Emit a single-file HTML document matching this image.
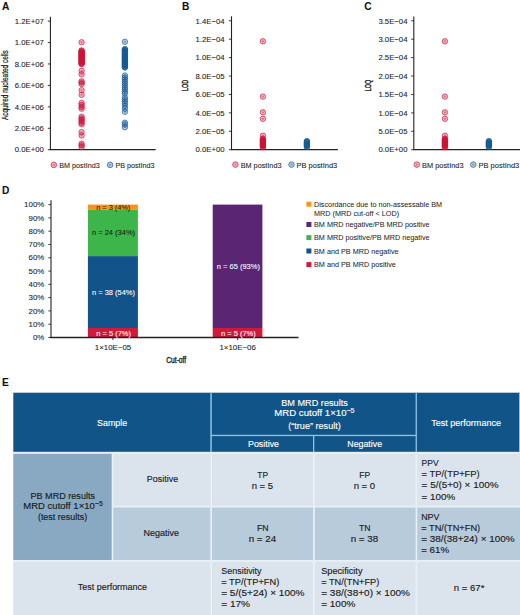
<!DOCTYPE html>
<html><head><meta charset="utf-8"><style>
html,body{margin:0;padding:0;background:#fff;width:520px;height:615px;overflow:hidden;}
svg{display:block;font-family:"Liberation Sans",sans-serif;}
</style></head><body>
<svg width="520" height="615" viewBox="0 0 520 615" font-family="Liberation Sans, sans-serif">
<rect width="520" height="615" fill="#fff"/>
<text x="2" y="10" font-size="10.2" text-anchor="start" fill="#111" font-weight="bold" stroke="#111" stroke-width="0.08" >A</text>
<line x1="50.4" y1="16.7" x2="50.4" y2="149.7" stroke="#222" stroke-width="1.1"/>
<line x1="49.85" y1="149.7" x2="155.7" y2="149.7" stroke="#222" stroke-width="1.3"/>
<line x1="47.8" y1="149.7" x2="50.4" y2="149.7" stroke="#222" stroke-width="0.9"/>
<text x="43.8" y="152.39999999999998" font-size="7.75" text-anchor="end" fill="#222" font-weight="normal" stroke="#222" stroke-width="0.08" >0.0E+00</text>
<line x1="47.8" y1="128.27" x2="50.4" y2="128.27" stroke="#222" stroke-width="0.9"/>
<text x="43.8" y="130.97" font-size="7.75" text-anchor="end" fill="#222" font-weight="normal" stroke="#222" stroke-width="0.08" >2.0E+06</text>
<line x1="47.8" y1="106.84" x2="50.4" y2="106.84" stroke="#222" stroke-width="0.9"/>
<text x="43.8" y="109.54" font-size="7.75" text-anchor="end" fill="#222" font-weight="normal" stroke="#222" stroke-width="0.08" >4.0E+06</text>
<line x1="47.8" y1="85.41" x2="50.4" y2="85.41" stroke="#222" stroke-width="0.9"/>
<text x="43.8" y="88.11" font-size="7.75" text-anchor="end" fill="#222" font-weight="normal" stroke="#222" stroke-width="0.08" >6.0E+06</text>
<line x1="47.8" y1="63.98" x2="50.4" y2="63.98" stroke="#222" stroke-width="0.9"/>
<text x="43.8" y="66.67999999999999" font-size="7.75" text-anchor="end" fill="#222" font-weight="normal" stroke="#222" stroke-width="0.08" >8.0E+06</text>
<line x1="47.8" y1="42.55" x2="50.4" y2="42.55" stroke="#222" stroke-width="0.9"/>
<text x="43.8" y="45.25" font-size="7.75" text-anchor="end" fill="#222" font-weight="normal" stroke="#222" stroke-width="0.08" >1.0E+07</text>
<line x1="47.8" y1="21.12" x2="50.4" y2="21.12" stroke="#222" stroke-width="0.9"/>
<text x="43.8" y="23.82" font-size="7.75" text-anchor="end" fill="#222" font-weight="normal" stroke="#222" stroke-width="0.08" >1.2E+07</text>
<text transform="translate(8.0,85.1) rotate(-90)" font-size="8.4" text-anchor="middle" fill="#1a1a1a" stroke="#1a1a1a" stroke-width="0.22" textLength="69.8" lengthAdjust="spacingAndGlyphs">Acquired nucleated cells</text>
<g><circle cx="81.6" cy="42.3" r="2.7" fill="#cc1338" fill-opacity="0.3" stroke="#cc1338" stroke-width="0.8" stroke-opacity="0.85"/><circle cx="81.6" cy="42.3" r="1.1" fill="#cc1338" fill-opacity="0.45"/></g>
<g><circle cx="81.6" cy="50.4" r="2.7" fill="#cc1338" fill-opacity="0.3" stroke="#cc1338" stroke-width="0.8" stroke-opacity="0.85"/><circle cx="81.6" cy="50.4" r="1.1" fill="#cc1338" fill-opacity="0.45"/></g>
<g><circle cx="81.6" cy="51.0" r="2.7" fill="#cc1338" fill-opacity="0.3" stroke="#cc1338" stroke-width="0.8" stroke-opacity="0.85"/><circle cx="81.6" cy="51.0" r="1.1" fill="#cc1338" fill-opacity="0.45"/></g>
<g><circle cx="81.6" cy="51.6" r="2.7" fill="#cc1338" fill-opacity="0.3" stroke="#cc1338" stroke-width="0.8" stroke-opacity="0.85"/><circle cx="81.6" cy="51.6" r="1.1" fill="#cc1338" fill-opacity="0.45"/></g>
<g><circle cx="81.6" cy="52.2" r="2.7" fill="#cc1338" fill-opacity="0.3" stroke="#cc1338" stroke-width="0.8" stroke-opacity="0.85"/><circle cx="81.6" cy="52.2" r="1.1" fill="#cc1338" fill-opacity="0.45"/></g>
<g><circle cx="81.6" cy="52.8" r="2.7" fill="#cc1338" fill-opacity="0.3" stroke="#cc1338" stroke-width="0.8" stroke-opacity="0.85"/><circle cx="81.6" cy="52.8" r="1.1" fill="#cc1338" fill-opacity="0.45"/></g>
<g><circle cx="81.6" cy="53.4" r="2.7" fill="#cc1338" fill-opacity="0.3" stroke="#cc1338" stroke-width="0.8" stroke-opacity="0.85"/><circle cx="81.6" cy="53.4" r="1.1" fill="#cc1338" fill-opacity="0.45"/></g>
<g><circle cx="81.6" cy="54.0" r="2.7" fill="#cc1338" fill-opacity="0.3" stroke="#cc1338" stroke-width="0.8" stroke-opacity="0.85"/><circle cx="81.6" cy="54.0" r="1.1" fill="#cc1338" fill-opacity="0.45"/></g>
<g><circle cx="81.6" cy="54.6" r="2.7" fill="#cc1338" fill-opacity="0.3" stroke="#cc1338" stroke-width="0.8" stroke-opacity="0.85"/><circle cx="81.6" cy="54.6" r="1.1" fill="#cc1338" fill-opacity="0.45"/></g>
<g><circle cx="81.6" cy="55.2" r="2.7" fill="#cc1338" fill-opacity="0.3" stroke="#cc1338" stroke-width="0.8" stroke-opacity="0.85"/><circle cx="81.6" cy="55.2" r="1.1" fill="#cc1338" fill-opacity="0.45"/></g>
<g><circle cx="81.6" cy="55.8" r="2.7" fill="#cc1338" fill-opacity="0.3" stroke="#cc1338" stroke-width="0.8" stroke-opacity="0.85"/><circle cx="81.6" cy="55.8" r="1.1" fill="#cc1338" fill-opacity="0.45"/></g>
<g><circle cx="81.6" cy="56.4" r="2.7" fill="#cc1338" fill-opacity="0.3" stroke="#cc1338" stroke-width="0.8" stroke-opacity="0.85"/><circle cx="81.6" cy="56.4" r="1.1" fill="#cc1338" fill-opacity="0.45"/></g>
<g><circle cx="81.6" cy="57.0" r="2.7" fill="#cc1338" fill-opacity="0.3" stroke="#cc1338" stroke-width="0.8" stroke-opacity="0.85"/><circle cx="81.6" cy="57.0" r="1.1" fill="#cc1338" fill-opacity="0.45"/></g>
<g><circle cx="81.6" cy="57.6" r="2.7" fill="#cc1338" fill-opacity="0.3" stroke="#cc1338" stroke-width="0.8" stroke-opacity="0.85"/><circle cx="81.6" cy="57.6" r="1.1" fill="#cc1338" fill-opacity="0.45"/></g>
<g><circle cx="81.6" cy="58.2" r="2.7" fill="#cc1338" fill-opacity="0.3" stroke="#cc1338" stroke-width="0.8" stroke-opacity="0.85"/><circle cx="81.6" cy="58.2" r="1.1" fill="#cc1338" fill-opacity="0.45"/></g>
<g><circle cx="81.6" cy="58.8" r="2.7" fill="#cc1338" fill-opacity="0.3" stroke="#cc1338" stroke-width="0.8" stroke-opacity="0.85"/><circle cx="81.6" cy="58.8" r="1.1" fill="#cc1338" fill-opacity="0.45"/></g>
<g><circle cx="81.6" cy="59.4" r="2.7" fill="#cc1338" fill-opacity="0.3" stroke="#cc1338" stroke-width="0.8" stroke-opacity="0.85"/><circle cx="81.6" cy="59.4" r="1.1" fill="#cc1338" fill-opacity="0.45"/></g>
<g><circle cx="81.6" cy="60.0" r="2.7" fill="#cc1338" fill-opacity="0.3" stroke="#cc1338" stroke-width="0.8" stroke-opacity="0.85"/><circle cx="81.6" cy="60.0" r="1.1" fill="#cc1338" fill-opacity="0.45"/></g>
<g><circle cx="81.6" cy="60.6" r="2.7" fill="#cc1338" fill-opacity="0.3" stroke="#cc1338" stroke-width="0.8" stroke-opacity="0.85"/><circle cx="81.6" cy="60.6" r="1.1" fill="#cc1338" fill-opacity="0.45"/></g>
<g><circle cx="81.6" cy="61.2" r="2.7" fill="#cc1338" fill-opacity="0.3" stroke="#cc1338" stroke-width="0.8" stroke-opacity="0.85"/><circle cx="81.6" cy="61.2" r="1.1" fill="#cc1338" fill-opacity="0.45"/></g>
<g><circle cx="81.6" cy="61.8" r="2.7" fill="#cc1338" fill-opacity="0.3" stroke="#cc1338" stroke-width="0.8" stroke-opacity="0.85"/><circle cx="81.6" cy="61.8" r="1.1" fill="#cc1338" fill-opacity="0.45"/></g>
<g><circle cx="81.6" cy="62.4" r="2.7" fill="#cc1338" fill-opacity="0.3" stroke="#cc1338" stroke-width="0.8" stroke-opacity="0.85"/><circle cx="81.6" cy="62.4" r="1.1" fill="#cc1338" fill-opacity="0.45"/></g>
<g><circle cx="81.6" cy="63.0" r="2.7" fill="#cc1338" fill-opacity="0.3" stroke="#cc1338" stroke-width="0.8" stroke-opacity="0.85"/><circle cx="81.6" cy="63.0" r="1.1" fill="#cc1338" fill-opacity="0.45"/></g>
<g><circle cx="81.6" cy="63.6" r="2.7" fill="#cc1338" fill-opacity="0.3" stroke="#cc1338" stroke-width="0.8" stroke-opacity="0.85"/><circle cx="81.6" cy="63.6" r="1.1" fill="#cc1338" fill-opacity="0.45"/></g>
<g><circle cx="81.6" cy="64.2" r="2.7" fill="#cc1338" fill-opacity="0.3" stroke="#cc1338" stroke-width="0.8" stroke-opacity="0.85"/><circle cx="81.6" cy="64.2" r="1.1" fill="#cc1338" fill-opacity="0.45"/></g>
<g><circle cx="81.6" cy="70.8" r="2.7" fill="#cc1338" fill-opacity="0.3" stroke="#cc1338" stroke-width="0.8" stroke-opacity="0.85"/><circle cx="81.6" cy="70.8" r="1.1" fill="#cc1338" fill-opacity="0.45"/></g>
<g><circle cx="81.6" cy="74.3" r="2.7" fill="#cc1338" fill-opacity="0.3" stroke="#cc1338" stroke-width="0.8" stroke-opacity="0.85"/><circle cx="81.6" cy="74.3" r="1.1" fill="#cc1338" fill-opacity="0.45"/></g>
<g><circle cx="81.6" cy="81.3" r="2.7" fill="#cc1338" fill-opacity="0.3" stroke="#cc1338" stroke-width="0.8" stroke-opacity="0.85"/><circle cx="81.6" cy="81.3" r="1.1" fill="#cc1338" fill-opacity="0.45"/></g>
<g><circle cx="81.6" cy="82.6" r="2.7" fill="#cc1338" fill-opacity="0.3" stroke="#cc1338" stroke-width="0.8" stroke-opacity="0.85"/><circle cx="81.6" cy="82.6" r="1.1" fill="#cc1338" fill-opacity="0.45"/></g>
<g><circle cx="81.6" cy="84.0" r="2.7" fill="#cc1338" fill-opacity="0.3" stroke="#cc1338" stroke-width="0.8" stroke-opacity="0.85"/><circle cx="81.6" cy="84.0" r="1.1" fill="#cc1338" fill-opacity="0.45"/></g>
<g><circle cx="81.6" cy="90.2" r="2.7" fill="#cc1338" fill-opacity="0.3" stroke="#cc1338" stroke-width="0.8" stroke-opacity="0.85"/><circle cx="81.6" cy="90.2" r="1.1" fill="#cc1338" fill-opacity="0.45"/></g>
<g><circle cx="81.6" cy="94.8" r="2.7" fill="#cc1338" fill-opacity="0.3" stroke="#cc1338" stroke-width="0.8" stroke-opacity="0.85"/><circle cx="81.6" cy="94.8" r="1.1" fill="#cc1338" fill-opacity="0.45"/></g>
<g><circle cx="81.6" cy="102.9" r="2.7" fill="#cc1338" fill-opacity="0.3" stroke="#cc1338" stroke-width="0.8" stroke-opacity="0.85"/><circle cx="81.6" cy="102.9" r="1.1" fill="#cc1338" fill-opacity="0.45"/></g>
<g><circle cx="81.6" cy="105.0" r="2.7" fill="#cc1338" fill-opacity="0.3" stroke="#cc1338" stroke-width="0.8" stroke-opacity="0.85"/><circle cx="81.6" cy="105.0" r="1.1" fill="#cc1338" fill-opacity="0.45"/></g>
<g><circle cx="81.6" cy="107.0" r="2.7" fill="#cc1338" fill-opacity="0.3" stroke="#cc1338" stroke-width="0.8" stroke-opacity="0.85"/><circle cx="81.6" cy="107.0" r="1.1" fill="#cc1338" fill-opacity="0.45"/></g>
<g><circle cx="81.6" cy="108.7" r="2.7" fill="#cc1338" fill-opacity="0.3" stroke="#cc1338" stroke-width="0.8" stroke-opacity="0.85"/><circle cx="81.6" cy="108.7" r="1.1" fill="#cc1338" fill-opacity="0.45"/></g>
<g><circle cx="81.6" cy="116.7" r="2.7" fill="#cc1338" fill-opacity="0.3" stroke="#cc1338" stroke-width="0.8" stroke-opacity="0.85"/><circle cx="81.6" cy="116.7" r="1.1" fill="#cc1338" fill-opacity="0.45"/></g>
<g><circle cx="81.6" cy="118.4" r="2.7" fill="#cc1338" fill-opacity="0.3" stroke="#cc1338" stroke-width="0.8" stroke-opacity="0.85"/><circle cx="81.6" cy="118.4" r="1.1" fill="#cc1338" fill-opacity="0.45"/></g>
<g><circle cx="81.6" cy="119.8" r="2.7" fill="#cc1338" fill-opacity="0.3" stroke="#cc1338" stroke-width="0.8" stroke-opacity="0.85"/><circle cx="81.6" cy="119.8" r="1.1" fill="#cc1338" fill-opacity="0.45"/></g>
<g><circle cx="81.6" cy="121.3" r="2.7" fill="#cc1338" fill-opacity="0.3" stroke="#cc1338" stroke-width="0.8" stroke-opacity="0.85"/><circle cx="81.6" cy="121.3" r="1.1" fill="#cc1338" fill-opacity="0.45"/></g>
<g><circle cx="81.6" cy="122.8" r="2.7" fill="#cc1338" fill-opacity="0.3" stroke="#cc1338" stroke-width="0.8" stroke-opacity="0.85"/><circle cx="81.6" cy="122.8" r="1.1" fill="#cc1338" fill-opacity="0.45"/></g>
<g><circle cx="81.6" cy="124.3" r="2.7" fill="#cc1338" fill-opacity="0.3" stroke="#cc1338" stroke-width="0.8" stroke-opacity="0.85"/><circle cx="81.6" cy="124.3" r="1.1" fill="#cc1338" fill-opacity="0.45"/></g>
<g><circle cx="81.6" cy="132.1" r="2.7" fill="#cc1338" fill-opacity="0.3" stroke="#cc1338" stroke-width="0.8" stroke-opacity="0.85"/><circle cx="81.6" cy="132.1" r="1.1" fill="#cc1338" fill-opacity="0.45"/></g>
<g><circle cx="81.6" cy="135.5" r="2.7" fill="#cc1338" fill-opacity="0.3" stroke="#cc1338" stroke-width="0.8" stroke-opacity="0.85"/><circle cx="81.6" cy="135.5" r="1.1" fill="#cc1338" fill-opacity="0.45"/></g>
<g><circle cx="81.6" cy="143.7" r="2.7" fill="#cc1338" fill-opacity="0.3" stroke="#cc1338" stroke-width="0.8" stroke-opacity="0.85"/><circle cx="81.6" cy="143.7" r="1.1" fill="#cc1338" fill-opacity="0.45"/></g>
<g><circle cx="81.6" cy="145.3" r="2.7" fill="#cc1338" fill-opacity="0.3" stroke="#cc1338" stroke-width="0.8" stroke-opacity="0.85"/><circle cx="81.6" cy="145.3" r="1.1" fill="#cc1338" fill-opacity="0.45"/></g>
<g><circle cx="81.6" cy="147.0" r="2.7" fill="#cc1338" fill-opacity="0.3" stroke="#cc1338" stroke-width="0.8" stroke-opacity="0.85"/><circle cx="81.6" cy="147.0" r="1.1" fill="#cc1338" fill-opacity="0.45"/></g>
<g><circle cx="124.9" cy="41.8" r="2.7" fill="#175a94" fill-opacity="0.3" stroke="#175a94" stroke-width="0.8" stroke-opacity="0.85"/><circle cx="124.9" cy="41.8" r="1.1" fill="#175a94" fill-opacity="0.45"/></g>
<g><circle cx="124.9" cy="49.0" r="2.7" fill="#175a94" fill-opacity="0.3" stroke="#175a94" stroke-width="0.8" stroke-opacity="0.85"/><circle cx="124.9" cy="49.0" r="1.1" fill="#175a94" fill-opacity="0.45"/></g>
<g><circle cx="124.9" cy="49.6" r="2.7" fill="#175a94" fill-opacity="0.3" stroke="#175a94" stroke-width="0.8" stroke-opacity="0.85"/><circle cx="124.9" cy="49.6" r="1.1" fill="#175a94" fill-opacity="0.45"/></g>
<g><circle cx="124.9" cy="50.2" r="2.7" fill="#175a94" fill-opacity="0.3" stroke="#175a94" stroke-width="0.8" stroke-opacity="0.85"/><circle cx="124.9" cy="50.2" r="1.1" fill="#175a94" fill-opacity="0.45"/></g>
<g><circle cx="124.9" cy="50.8" r="2.7" fill="#175a94" fill-opacity="0.3" stroke="#175a94" stroke-width="0.8" stroke-opacity="0.85"/><circle cx="124.9" cy="50.8" r="1.1" fill="#175a94" fill-opacity="0.45"/></g>
<g><circle cx="124.9" cy="51.4" r="2.7" fill="#175a94" fill-opacity="0.3" stroke="#175a94" stroke-width="0.8" stroke-opacity="0.85"/><circle cx="124.9" cy="51.4" r="1.1" fill="#175a94" fill-opacity="0.45"/></g>
<g><circle cx="124.9" cy="52.0" r="2.7" fill="#175a94" fill-opacity="0.3" stroke="#175a94" stroke-width="0.8" stroke-opacity="0.85"/><circle cx="124.9" cy="52.0" r="1.1" fill="#175a94" fill-opacity="0.45"/></g>
<g><circle cx="124.9" cy="52.6" r="2.7" fill="#175a94" fill-opacity="0.3" stroke="#175a94" stroke-width="0.8" stroke-opacity="0.85"/><circle cx="124.9" cy="52.6" r="1.1" fill="#175a94" fill-opacity="0.45"/></g>
<g><circle cx="124.9" cy="53.2" r="2.7" fill="#175a94" fill-opacity="0.3" stroke="#175a94" stroke-width="0.8" stroke-opacity="0.85"/><circle cx="124.9" cy="53.2" r="1.1" fill="#175a94" fill-opacity="0.45"/></g>
<g><circle cx="124.9" cy="53.8" r="2.7" fill="#175a94" fill-opacity="0.3" stroke="#175a94" stroke-width="0.8" stroke-opacity="0.85"/><circle cx="124.9" cy="53.8" r="1.1" fill="#175a94" fill-opacity="0.45"/></g>
<g><circle cx="124.9" cy="54.4" r="2.7" fill="#175a94" fill-opacity="0.3" stroke="#175a94" stroke-width="0.8" stroke-opacity="0.85"/><circle cx="124.9" cy="54.4" r="1.1" fill="#175a94" fill-opacity="0.45"/></g>
<g><circle cx="124.9" cy="55.0" r="2.7" fill="#175a94" fill-opacity="0.3" stroke="#175a94" stroke-width="0.8" stroke-opacity="0.85"/><circle cx="124.9" cy="55.0" r="1.1" fill="#175a94" fill-opacity="0.45"/></g>
<g><circle cx="124.9" cy="55.6" r="2.7" fill="#175a94" fill-opacity="0.3" stroke="#175a94" stroke-width="0.8" stroke-opacity="0.85"/><circle cx="124.9" cy="55.6" r="1.1" fill="#175a94" fill-opacity="0.45"/></g>
<g><circle cx="124.9" cy="56.2" r="2.7" fill="#175a94" fill-opacity="0.3" stroke="#175a94" stroke-width="0.8" stroke-opacity="0.85"/><circle cx="124.9" cy="56.2" r="1.1" fill="#175a94" fill-opacity="0.45"/></g>
<g><circle cx="124.9" cy="56.8" r="2.7" fill="#175a94" fill-opacity="0.3" stroke="#175a94" stroke-width="0.8" stroke-opacity="0.85"/><circle cx="124.9" cy="56.8" r="1.1" fill="#175a94" fill-opacity="0.45"/></g>
<g><circle cx="124.9" cy="57.4" r="2.7" fill="#175a94" fill-opacity="0.3" stroke="#175a94" stroke-width="0.8" stroke-opacity="0.85"/><circle cx="124.9" cy="57.4" r="1.1" fill="#175a94" fill-opacity="0.45"/></g>
<g><circle cx="124.9" cy="58.0" r="2.7" fill="#175a94" fill-opacity="0.3" stroke="#175a94" stroke-width="0.8" stroke-opacity="0.85"/><circle cx="124.9" cy="58.0" r="1.1" fill="#175a94" fill-opacity="0.45"/></g>
<g><circle cx="124.9" cy="58.6" r="2.7" fill="#175a94" fill-opacity="0.3" stroke="#175a94" stroke-width="0.8" stroke-opacity="0.85"/><circle cx="124.9" cy="58.6" r="1.1" fill="#175a94" fill-opacity="0.45"/></g>
<g><circle cx="124.9" cy="59.2" r="2.7" fill="#175a94" fill-opacity="0.3" stroke="#175a94" stroke-width="0.8" stroke-opacity="0.85"/><circle cx="124.9" cy="59.2" r="1.1" fill="#175a94" fill-opacity="0.45"/></g>
<g><circle cx="124.9" cy="59.8" r="2.7" fill="#175a94" fill-opacity="0.3" stroke="#175a94" stroke-width="0.8" stroke-opacity="0.85"/><circle cx="124.9" cy="59.8" r="1.1" fill="#175a94" fill-opacity="0.45"/></g>
<g><circle cx="124.9" cy="60.4" r="2.7" fill="#175a94" fill-opacity="0.3" stroke="#175a94" stroke-width="0.8" stroke-opacity="0.85"/><circle cx="124.9" cy="60.4" r="1.1" fill="#175a94" fill-opacity="0.45"/></g>
<g><circle cx="124.9" cy="61.0" r="2.7" fill="#175a94" fill-opacity="0.3" stroke="#175a94" stroke-width="0.8" stroke-opacity="0.85"/><circle cx="124.9" cy="61.0" r="1.1" fill="#175a94" fill-opacity="0.45"/></g>
<g><circle cx="124.9" cy="61.6" r="2.7" fill="#175a94" fill-opacity="0.3" stroke="#175a94" stroke-width="0.8" stroke-opacity="0.85"/><circle cx="124.9" cy="61.6" r="1.1" fill="#175a94" fill-opacity="0.45"/></g>
<g><circle cx="124.9" cy="62.2" r="2.7" fill="#175a94" fill-opacity="0.3" stroke="#175a94" stroke-width="0.8" stroke-opacity="0.85"/><circle cx="124.9" cy="62.2" r="1.1" fill="#175a94" fill-opacity="0.45"/></g>
<g><circle cx="124.9" cy="62.8" r="2.7" fill="#175a94" fill-opacity="0.3" stroke="#175a94" stroke-width="0.8" stroke-opacity="0.85"/><circle cx="124.9" cy="62.8" r="1.1" fill="#175a94" fill-opacity="0.45"/></g>
<g><circle cx="124.9" cy="63.4" r="2.7" fill="#175a94" fill-opacity="0.3" stroke="#175a94" stroke-width="0.8" stroke-opacity="0.85"/><circle cx="124.9" cy="63.4" r="1.1" fill="#175a94" fill-opacity="0.45"/></g>
<g><circle cx="124.9" cy="64.0" r="2.7" fill="#175a94" fill-opacity="0.3" stroke="#175a94" stroke-width="0.8" stroke-opacity="0.85"/><circle cx="124.9" cy="64.0" r="1.1" fill="#175a94" fill-opacity="0.45"/></g>
<g><circle cx="124.9" cy="64.6" r="2.7" fill="#175a94" fill-opacity="0.3" stroke="#175a94" stroke-width="0.8" stroke-opacity="0.85"/><circle cx="124.9" cy="64.6" r="1.1" fill="#175a94" fill-opacity="0.45"/></g>
<g><circle cx="124.9" cy="65.2" r="2.7" fill="#175a94" fill-opacity="0.3" stroke="#175a94" stroke-width="0.8" stroke-opacity="0.85"/><circle cx="124.9" cy="65.2" r="1.1" fill="#175a94" fill-opacity="0.45"/></g>
<g><circle cx="124.9" cy="65.8" r="2.7" fill="#175a94" fill-opacity="0.3" stroke="#175a94" stroke-width="0.8" stroke-opacity="0.85"/><circle cx="124.9" cy="65.8" r="1.1" fill="#175a94" fill-opacity="0.45"/></g>
<g><circle cx="124.9" cy="66.4" r="2.7" fill="#175a94" fill-opacity="0.3" stroke="#175a94" stroke-width="0.8" stroke-opacity="0.85"/><circle cx="124.9" cy="66.4" r="1.1" fill="#175a94" fill-opacity="0.45"/></g>
<g><circle cx="124.9" cy="67.0" r="2.7" fill="#175a94" fill-opacity="0.3" stroke="#175a94" stroke-width="0.8" stroke-opacity="0.85"/><circle cx="124.9" cy="67.0" r="1.1" fill="#175a94" fill-opacity="0.45"/></g>
<g><circle cx="124.9" cy="67.6" r="2.7" fill="#175a94" fill-opacity="0.3" stroke="#175a94" stroke-width="0.8" stroke-opacity="0.85"/><circle cx="124.9" cy="67.6" r="1.1" fill="#175a94" fill-opacity="0.45"/></g>
<g><circle cx="124.9" cy="75.5" r="2.7" fill="#175a94" fill-opacity="0.3" stroke="#175a94" stroke-width="0.8" stroke-opacity="0.85"/><circle cx="124.9" cy="75.5" r="1.1" fill="#175a94" fill-opacity="0.45"/></g>
<g><circle cx="124.9" cy="77.5" r="2.7" fill="#175a94" fill-opacity="0.3" stroke="#175a94" stroke-width="0.8" stroke-opacity="0.85"/><circle cx="124.9" cy="77.5" r="1.1" fill="#175a94" fill-opacity="0.45"/></g>
<g><circle cx="124.9" cy="79.5" r="2.7" fill="#175a94" fill-opacity="0.3" stroke="#175a94" stroke-width="0.8" stroke-opacity="0.85"/><circle cx="124.9" cy="79.5" r="1.1" fill="#175a94" fill-opacity="0.45"/></g>
<g><circle cx="124.9" cy="81.5" r="2.7" fill="#175a94" fill-opacity="0.3" stroke="#175a94" stroke-width="0.8" stroke-opacity="0.85"/><circle cx="124.9" cy="81.5" r="1.1" fill="#175a94" fill-opacity="0.45"/></g>
<g><circle cx="124.9" cy="83.5" r="2.7" fill="#175a94" fill-opacity="0.3" stroke="#175a94" stroke-width="0.8" stroke-opacity="0.85"/><circle cx="124.9" cy="83.5" r="1.1" fill="#175a94" fill-opacity="0.45"/></g>
<g><circle cx="124.9" cy="85.5" r="2.7" fill="#175a94" fill-opacity="0.3" stroke="#175a94" stroke-width="0.8" stroke-opacity="0.85"/><circle cx="124.9" cy="85.5" r="1.1" fill="#175a94" fill-opacity="0.45"/></g>
<g><circle cx="124.9" cy="87.5" r="2.7" fill="#175a94" fill-opacity="0.3" stroke="#175a94" stroke-width="0.8" stroke-opacity="0.85"/><circle cx="124.9" cy="87.5" r="1.1" fill="#175a94" fill-opacity="0.45"/></g>
<g><circle cx="124.9" cy="89.5" r="2.7" fill="#175a94" fill-opacity="0.3" stroke="#175a94" stroke-width="0.8" stroke-opacity="0.85"/><circle cx="124.9" cy="89.5" r="1.1" fill="#175a94" fill-opacity="0.45"/></g>
<g><circle cx="124.9" cy="91.5" r="2.7" fill="#175a94" fill-opacity="0.3" stroke="#175a94" stroke-width="0.8" stroke-opacity="0.85"/><circle cx="124.9" cy="91.5" r="1.1" fill="#175a94" fill-opacity="0.45"/></g>
<g><circle cx="124.9" cy="93.5" r="2.7" fill="#175a94" fill-opacity="0.3" stroke="#175a94" stroke-width="0.8" stroke-opacity="0.85"/><circle cx="124.9" cy="93.5" r="1.1" fill="#175a94" fill-opacity="0.45"/></g>
<g><circle cx="124.9" cy="97.3" r="2.7" fill="#175a94" fill-opacity="0.3" stroke="#175a94" stroke-width="0.8" stroke-opacity="0.85"/><circle cx="124.9" cy="97.3" r="1.1" fill="#175a94" fill-opacity="0.45"/></g>
<g><circle cx="124.9" cy="99.5" r="2.7" fill="#175a94" fill-opacity="0.3" stroke="#175a94" stroke-width="0.8" stroke-opacity="0.85"/><circle cx="124.9" cy="99.5" r="1.1" fill="#175a94" fill-opacity="0.45"/></g>
<g><circle cx="124.9" cy="101.5" r="2.7" fill="#175a94" fill-opacity="0.3" stroke="#175a94" stroke-width="0.8" stroke-opacity="0.85"/><circle cx="124.9" cy="101.5" r="1.1" fill="#175a94" fill-opacity="0.45"/></g>
<g><circle cx="124.9" cy="103.5" r="2.7" fill="#175a94" fill-opacity="0.3" stroke="#175a94" stroke-width="0.8" stroke-opacity="0.85"/><circle cx="124.9" cy="103.5" r="1.1" fill="#175a94" fill-opacity="0.45"/></g>
<g><circle cx="124.9" cy="106.0" r="2.7" fill="#175a94" fill-opacity="0.3" stroke="#175a94" stroke-width="0.8" stroke-opacity="0.85"/><circle cx="124.9" cy="106.0" r="1.1" fill="#175a94" fill-opacity="0.45"/></g>
<g><circle cx="124.9" cy="108.7" r="2.7" fill="#175a94" fill-opacity="0.3" stroke="#175a94" stroke-width="0.8" stroke-opacity="0.85"/><circle cx="124.9" cy="108.7" r="1.1" fill="#175a94" fill-opacity="0.45"/></g>
<g><circle cx="124.9" cy="111.8" r="2.7" fill="#175a94" fill-opacity="0.3" stroke="#175a94" stroke-width="0.8" stroke-opacity="0.85"/><circle cx="124.9" cy="111.8" r="1.1" fill="#175a94" fill-opacity="0.45"/></g>
<g><circle cx="124.9" cy="122.7" r="2.7" fill="#175a94" fill-opacity="0.3" stroke="#175a94" stroke-width="0.8" stroke-opacity="0.85"/><circle cx="124.9" cy="122.7" r="1.1" fill="#175a94" fill-opacity="0.45"/></g>
<g><circle cx="124.9" cy="124.5" r="2.7" fill="#175a94" fill-opacity="0.3" stroke="#175a94" stroke-width="0.8" stroke-opacity="0.85"/><circle cx="124.9" cy="124.5" r="1.1" fill="#175a94" fill-opacity="0.45"/></g>
<g><circle cx="124.9" cy="127.2" r="2.7" fill="#175a94" fill-opacity="0.3" stroke="#175a94" stroke-width="0.8" stroke-opacity="0.85"/><circle cx="124.9" cy="127.2" r="1.1" fill="#175a94" fill-opacity="0.45"/></g>
<g><circle cx="53.8" cy="164.9" r="2.8" fill="#cc1338" fill-opacity="0.3" stroke="#cc1338" stroke-width="0.8" stroke-opacity="0.85"/><circle cx="53.8" cy="164.9" r="1.1" fill="#cc1338" fill-opacity="0.45"/></g>
<text x="59.3" y="167.9" font-size="7.2" text-anchor="start" fill="#222" font-weight="normal" stroke="#222" stroke-width="0.08" textLength="40.4" lengthAdjust="spacingAndGlyphs">BM postInd3</text>
<g><circle cx="110.1" cy="164.9" r="2.8" fill="#175a94" fill-opacity="0.3" stroke="#175a94" stroke-width="0.8" stroke-opacity="0.85"/><circle cx="110.1" cy="164.9" r="1.1" fill="#175a94" fill-opacity="0.45"/></g>
<text x="115.4" y="167.9" font-size="7.2" text-anchor="start" fill="#222" font-weight="normal" stroke="#222" stroke-width="0.08" textLength="39.2" lengthAdjust="spacingAndGlyphs">PB postInd3</text>
<text x="182.1" y="10" font-size="10.2" text-anchor="start" fill="#111" font-weight="bold" stroke="#111" stroke-width="0.08" >B</text>
<line x1="231.5" y1="16.3" x2="231.5" y2="149.7" stroke="#222" stroke-width="1.1"/>
<line x1="230.95" y1="149.7" x2="337.9" y2="149.7" stroke="#222" stroke-width="1.3"/>
<line x1="228.9" y1="149.7" x2="231.5" y2="149.7" stroke="#222" stroke-width="0.9"/>
<text x="224.6" y="152.39999999999998" font-size="7.75" text-anchor="end" fill="#222" font-weight="normal" stroke="#222" stroke-width="0.08" >0.0E+00</text>
<line x1="228.9" y1="131.29" x2="231.5" y2="131.29" stroke="#222" stroke-width="0.9"/>
<text x="224.6" y="133.98999999999998" font-size="7.75" text-anchor="end" fill="#222" font-weight="normal" stroke="#222" stroke-width="0.08" >2.0E&#8722;05</text>
<line x1="228.9" y1="112.87" x2="231.5" y2="112.87" stroke="#222" stroke-width="0.9"/>
<text x="224.6" y="115.57000000000001" font-size="7.75" text-anchor="end" fill="#222" font-weight="normal" stroke="#222" stroke-width="0.08" >4.0E&#8722;05</text>
<line x1="228.9" y1="94.46" x2="231.5" y2="94.46" stroke="#222" stroke-width="0.9"/>
<text x="224.6" y="97.16" font-size="7.75" text-anchor="end" fill="#222" font-weight="normal" stroke="#222" stroke-width="0.08" >6.0E&#8722;05</text>
<line x1="228.9" y1="76.04" x2="231.5" y2="76.04" stroke="#222" stroke-width="0.9"/>
<text x="224.6" y="78.74000000000001" font-size="7.75" text-anchor="end" fill="#222" font-weight="normal" stroke="#222" stroke-width="0.08" >8.0E&#8722;05</text>
<line x1="228.9" y1="57.63" x2="231.5" y2="57.63" stroke="#222" stroke-width="0.9"/>
<text x="224.6" y="60.330000000000005" font-size="7.75" text-anchor="end" fill="#222" font-weight="normal" stroke="#222" stroke-width="0.08" >1.0E&#8722;04</text>
<line x1="228.9" y1="39.21" x2="231.5" y2="39.21" stroke="#222" stroke-width="0.9"/>
<text x="224.6" y="41.910000000000004" font-size="7.75" text-anchor="end" fill="#222" font-weight="normal" stroke="#222" stroke-width="0.08" >1.2E&#8722;04</text>
<line x1="228.9" y1="20.8" x2="231.5" y2="20.8" stroke="#222" stroke-width="0.9"/>
<text x="224.6" y="23.5" font-size="7.75" text-anchor="end" fill="#222" font-weight="normal" stroke="#222" stroke-width="0.08" >1.4E&#8722;04</text>
<text transform="translate(188.4,85.45) rotate(-90)" font-size="9.6" text-anchor="middle" fill="#1a1a1a" stroke="#1a1a1a" stroke-width="0.4" textLength="11.1" lengthAdjust="spacingAndGlyphs">LOD</text>
<g><circle cx="262.9" cy="41.3" r="2.7" fill="#cc1338" fill-opacity="0.3" stroke="#cc1338" stroke-width="0.8" stroke-opacity="0.85"/><circle cx="262.9" cy="41.3" r="1.1" fill="#cc1338" fill-opacity="0.45"/></g>
<g><circle cx="262.9" cy="96.6" r="2.7" fill="#cc1338" fill-opacity="0.3" stroke="#cc1338" stroke-width="0.8" stroke-opacity="0.85"/><circle cx="262.9" cy="96.6" r="1.1" fill="#cc1338" fill-opacity="0.45"/></g>
<g><circle cx="262.9" cy="112.3" r="2.7" fill="#cc1338" fill-opacity="0.3" stroke="#cc1338" stroke-width="0.8" stroke-opacity="0.85"/><circle cx="262.9" cy="112.3" r="1.1" fill="#cc1338" fill-opacity="0.45"/></g>
<g><circle cx="262.9" cy="118.8" r="2.7" fill="#cc1338" fill-opacity="0.3" stroke="#cc1338" stroke-width="0.8" stroke-opacity="0.85"/><circle cx="262.9" cy="118.8" r="1.1" fill="#cc1338" fill-opacity="0.45"/></g>
<g><circle cx="262.9" cy="135.7" r="2.7" fill="#cc1338" fill-opacity="0.3" stroke="#cc1338" stroke-width="0.8" stroke-opacity="0.85"/><circle cx="262.9" cy="135.7" r="1.1" fill="#cc1338" fill-opacity="0.45"/></g>
<g><circle cx="262.9" cy="138.8" r="2.7" fill="#cc1338" fill-opacity="0.3" stroke="#cc1338" stroke-width="0.8" stroke-opacity="0.85"/><circle cx="262.9" cy="138.8" r="1.1" fill="#cc1338" fill-opacity="0.45"/></g>
<g><circle cx="262.9" cy="139.4" r="2.7" fill="#cc1338" fill-opacity="0.3" stroke="#cc1338" stroke-width="0.8" stroke-opacity="0.85"/><circle cx="262.9" cy="139.4" r="1.1" fill="#cc1338" fill-opacity="0.45"/></g>
<g><circle cx="262.9" cy="140.0" r="2.7" fill="#cc1338" fill-opacity="0.3" stroke="#cc1338" stroke-width="0.8" stroke-opacity="0.85"/><circle cx="262.9" cy="140.0" r="1.1" fill="#cc1338" fill-opacity="0.45"/></g>
<g><circle cx="262.9" cy="140.6" r="2.7" fill="#cc1338" fill-opacity="0.3" stroke="#cc1338" stroke-width="0.8" stroke-opacity="0.85"/><circle cx="262.9" cy="140.6" r="1.1" fill="#cc1338" fill-opacity="0.45"/></g>
<g><circle cx="262.9" cy="141.2" r="2.7" fill="#cc1338" fill-opacity="0.3" stroke="#cc1338" stroke-width="0.8" stroke-opacity="0.85"/><circle cx="262.9" cy="141.2" r="1.1" fill="#cc1338" fill-opacity="0.45"/></g>
<g><circle cx="262.9" cy="141.8" r="2.7" fill="#cc1338" fill-opacity="0.3" stroke="#cc1338" stroke-width="0.8" stroke-opacity="0.85"/><circle cx="262.9" cy="141.8" r="1.1" fill="#cc1338" fill-opacity="0.45"/></g>
<g><circle cx="262.9" cy="142.4" r="2.7" fill="#cc1338" fill-opacity="0.3" stroke="#cc1338" stroke-width="0.8" stroke-opacity="0.85"/><circle cx="262.9" cy="142.4" r="1.1" fill="#cc1338" fill-opacity="0.45"/></g>
<g><circle cx="262.9" cy="143.0" r="2.7" fill="#cc1338" fill-opacity="0.3" stroke="#cc1338" stroke-width="0.8" stroke-opacity="0.85"/><circle cx="262.9" cy="143.0" r="1.1" fill="#cc1338" fill-opacity="0.45"/></g>
<g><circle cx="262.9" cy="143.6" r="2.7" fill="#cc1338" fill-opacity="0.3" stroke="#cc1338" stroke-width="0.8" stroke-opacity="0.85"/><circle cx="262.9" cy="143.6" r="1.1" fill="#cc1338" fill-opacity="0.45"/></g>
<g><circle cx="262.9" cy="144.2" r="2.7" fill="#cc1338" fill-opacity="0.3" stroke="#cc1338" stroke-width="0.8" stroke-opacity="0.85"/><circle cx="262.9" cy="144.2" r="1.1" fill="#cc1338" fill-opacity="0.45"/></g>
<g><circle cx="262.9" cy="144.8" r="2.7" fill="#cc1338" fill-opacity="0.3" stroke="#cc1338" stroke-width="0.8" stroke-opacity="0.85"/><circle cx="262.9" cy="144.8" r="1.1" fill="#cc1338" fill-opacity="0.45"/></g>
<g><circle cx="262.9" cy="145.4" r="2.7" fill="#cc1338" fill-opacity="0.3" stroke="#cc1338" stroke-width="0.8" stroke-opacity="0.85"/><circle cx="262.9" cy="145.4" r="1.1" fill="#cc1338" fill-opacity="0.45"/></g>
<g><circle cx="262.9" cy="146.0" r="2.7" fill="#cc1338" fill-opacity="0.3" stroke="#cc1338" stroke-width="0.8" stroke-opacity="0.85"/><circle cx="262.9" cy="146.0" r="1.1" fill="#cc1338" fill-opacity="0.45"/></g>
<g><circle cx="262.9" cy="146.6" r="2.7" fill="#cc1338" fill-opacity="0.3" stroke="#cc1338" stroke-width="0.8" stroke-opacity="0.85"/><circle cx="262.9" cy="146.6" r="1.1" fill="#cc1338" fill-opacity="0.45"/></g>
<g><circle cx="262.9" cy="147.2" r="2.7" fill="#cc1338" fill-opacity="0.3" stroke="#cc1338" stroke-width="0.8" stroke-opacity="0.85"/><circle cx="262.9" cy="147.2" r="1.1" fill="#cc1338" fill-opacity="0.45"/></g>
<g><circle cx="306.9" cy="141.0" r="2.7" fill="#175a94" fill-opacity="0.3" stroke="#175a94" stroke-width="0.8" stroke-opacity="0.85"/><circle cx="306.9" cy="141.0" r="1.1" fill="#175a94" fill-opacity="0.45"/></g>
<g><circle cx="306.9" cy="141.6" r="2.7" fill="#175a94" fill-opacity="0.3" stroke="#175a94" stroke-width="0.8" stroke-opacity="0.85"/><circle cx="306.9" cy="141.6" r="1.1" fill="#175a94" fill-opacity="0.45"/></g>
<g><circle cx="306.9" cy="142.2" r="2.7" fill="#175a94" fill-opacity="0.3" stroke="#175a94" stroke-width="0.8" stroke-opacity="0.85"/><circle cx="306.9" cy="142.2" r="1.1" fill="#175a94" fill-opacity="0.45"/></g>
<g><circle cx="306.9" cy="142.8" r="2.7" fill="#175a94" fill-opacity="0.3" stroke="#175a94" stroke-width="0.8" stroke-opacity="0.85"/><circle cx="306.9" cy="142.8" r="1.1" fill="#175a94" fill-opacity="0.45"/></g>
<g><circle cx="306.9" cy="143.4" r="2.7" fill="#175a94" fill-opacity="0.3" stroke="#175a94" stroke-width="0.8" stroke-opacity="0.85"/><circle cx="306.9" cy="143.4" r="1.1" fill="#175a94" fill-opacity="0.45"/></g>
<g><circle cx="306.9" cy="144.0" r="2.7" fill="#175a94" fill-opacity="0.3" stroke="#175a94" stroke-width="0.8" stroke-opacity="0.85"/><circle cx="306.9" cy="144.0" r="1.1" fill="#175a94" fill-opacity="0.45"/></g>
<g><circle cx="306.9" cy="144.6" r="2.7" fill="#175a94" fill-opacity="0.3" stroke="#175a94" stroke-width="0.8" stroke-opacity="0.85"/><circle cx="306.9" cy="144.6" r="1.1" fill="#175a94" fill-opacity="0.45"/></g>
<g><circle cx="306.9" cy="145.2" r="2.7" fill="#175a94" fill-opacity="0.3" stroke="#175a94" stroke-width="0.8" stroke-opacity="0.85"/><circle cx="306.9" cy="145.2" r="1.1" fill="#175a94" fill-opacity="0.45"/></g>
<g><circle cx="306.9" cy="145.8" r="2.7" fill="#175a94" fill-opacity="0.3" stroke="#175a94" stroke-width="0.8" stroke-opacity="0.85"/><circle cx="306.9" cy="145.8" r="1.1" fill="#175a94" fill-opacity="0.45"/></g>
<g><circle cx="306.9" cy="146.4" r="2.7" fill="#175a94" fill-opacity="0.3" stroke="#175a94" stroke-width="0.8" stroke-opacity="0.85"/><circle cx="306.9" cy="146.4" r="1.1" fill="#175a94" fill-opacity="0.45"/></g>
<g><circle cx="306.9" cy="147.0" r="2.7" fill="#175a94" fill-opacity="0.3" stroke="#175a94" stroke-width="0.8" stroke-opacity="0.85"/><circle cx="306.9" cy="147.0" r="1.1" fill="#175a94" fill-opacity="0.45"/></g>
<g><circle cx="235.4" cy="164.6" r="2.8" fill="#cc1338" fill-opacity="0.3" stroke="#cc1338" stroke-width="0.8" stroke-opacity="0.85"/><circle cx="235.4" cy="164.6" r="1.1" fill="#cc1338" fill-opacity="0.45"/></g>
<text x="240.7" y="167.6" font-size="7.2" text-anchor="start" fill="#222" font-weight="normal" stroke="#222" stroke-width="0.08" textLength="40.8" lengthAdjust="spacingAndGlyphs">BM postInd3</text>
<g><circle cx="291.5" cy="164.6" r="2.8" fill="#175a94" fill-opacity="0.3" stroke="#175a94" stroke-width="0.8" stroke-opacity="0.85"/><circle cx="291.5" cy="164.6" r="1.1" fill="#175a94" fill-opacity="0.45"/></g>
<text x="296.6" y="167.6" font-size="7.2" text-anchor="start" fill="#222" font-weight="normal" stroke="#222" stroke-width="0.08" textLength="40.6" lengthAdjust="spacingAndGlyphs">PB postInd3</text>
<text x="364.2" y="10" font-size="10.2" text-anchor="start" fill="#111" font-weight="bold" stroke="#111" stroke-width="0.08" >C</text>
<line x1="413.8" y1="16.5" x2="413.8" y2="149.7" stroke="#222" stroke-width="1.1"/>
<line x1="413.25" y1="149.7" x2="520" y2="149.7" stroke="#222" stroke-width="1.3"/>
<line x1="411.2" y1="149.7" x2="413.8" y2="149.7" stroke="#222" stroke-width="0.9"/>
<text x="407.5" y="152.39999999999998" font-size="7.75" text-anchor="end" fill="#222" font-weight="normal" stroke="#222" stroke-width="0.08" >0.0E+00</text>
<line x1="411.2" y1="131.29" x2="413.8" y2="131.29" stroke="#222" stroke-width="0.9"/>
<text x="407.5" y="133.98999999999998" font-size="7.75" text-anchor="end" fill="#222" font-weight="normal" stroke="#222" stroke-width="0.08" >5.0E&#8722;05</text>
<line x1="411.2" y1="112.87" x2="413.8" y2="112.87" stroke="#222" stroke-width="0.9"/>
<text x="407.5" y="115.57000000000001" font-size="7.75" text-anchor="end" fill="#222" font-weight="normal" stroke="#222" stroke-width="0.08" >1.0E&#8722;04</text>
<line x1="411.2" y1="94.46" x2="413.8" y2="94.46" stroke="#222" stroke-width="0.9"/>
<text x="407.5" y="97.16" font-size="7.75" text-anchor="end" fill="#222" font-weight="normal" stroke="#222" stroke-width="0.08" >1.5E&#8722;04</text>
<line x1="411.2" y1="76.04" x2="413.8" y2="76.04" stroke="#222" stroke-width="0.9"/>
<text x="407.5" y="78.74000000000001" font-size="7.75" text-anchor="end" fill="#222" font-weight="normal" stroke="#222" stroke-width="0.08" >2.0E&#8722;04</text>
<line x1="411.2" y1="57.63" x2="413.8" y2="57.63" stroke="#222" stroke-width="0.9"/>
<text x="407.5" y="60.330000000000005" font-size="7.75" text-anchor="end" fill="#222" font-weight="normal" stroke="#222" stroke-width="0.08" >2.5E&#8722;04</text>
<line x1="411.2" y1="39.21" x2="413.8" y2="39.21" stroke="#222" stroke-width="0.9"/>
<text x="407.5" y="41.910000000000004" font-size="7.75" text-anchor="end" fill="#222" font-weight="normal" stroke="#222" stroke-width="0.08" >3.0E&#8722;04</text>
<line x1="411.2" y1="20.8" x2="413.8" y2="20.8" stroke="#222" stroke-width="0.9"/>
<text x="407.5" y="23.5" font-size="7.75" text-anchor="end" fill="#222" font-weight="normal" stroke="#222" stroke-width="0.08" >3.5E&#8722;04</text>
<text transform="translate(371.3,85.6) rotate(-90)" font-size="9.6" text-anchor="middle" fill="#1a1a1a" stroke="#1a1a1a" stroke-width="0.4" textLength="11.4" lengthAdjust="spacingAndGlyphs">LOQ</text>
<g><circle cx="444.9" cy="41.3" r="2.7" fill="#cc1338" fill-opacity="0.3" stroke="#cc1338" stroke-width="0.8" stroke-opacity="0.85"/><circle cx="444.9" cy="41.3" r="1.1" fill="#cc1338" fill-opacity="0.45"/></g>
<g><circle cx="444.9" cy="96.6" r="2.7" fill="#cc1338" fill-opacity="0.3" stroke="#cc1338" stroke-width="0.8" stroke-opacity="0.85"/><circle cx="444.9" cy="96.6" r="1.1" fill="#cc1338" fill-opacity="0.45"/></g>
<g><circle cx="444.9" cy="112.3" r="2.7" fill="#cc1338" fill-opacity="0.3" stroke="#cc1338" stroke-width="0.8" stroke-opacity="0.85"/><circle cx="444.9" cy="112.3" r="1.1" fill="#cc1338" fill-opacity="0.45"/></g>
<g><circle cx="444.9" cy="118.8" r="2.7" fill="#cc1338" fill-opacity="0.3" stroke="#cc1338" stroke-width="0.8" stroke-opacity="0.85"/><circle cx="444.9" cy="118.8" r="1.1" fill="#cc1338" fill-opacity="0.45"/></g>
<g><circle cx="444.9" cy="135.7" r="2.7" fill="#cc1338" fill-opacity="0.3" stroke="#cc1338" stroke-width="0.8" stroke-opacity="0.85"/><circle cx="444.9" cy="135.7" r="1.1" fill="#cc1338" fill-opacity="0.45"/></g>
<g><circle cx="444.9" cy="138.8" r="2.7" fill="#cc1338" fill-opacity="0.3" stroke="#cc1338" stroke-width="0.8" stroke-opacity="0.85"/><circle cx="444.9" cy="138.8" r="1.1" fill="#cc1338" fill-opacity="0.45"/></g>
<g><circle cx="444.9" cy="139.4" r="2.7" fill="#cc1338" fill-opacity="0.3" stroke="#cc1338" stroke-width="0.8" stroke-opacity="0.85"/><circle cx="444.9" cy="139.4" r="1.1" fill="#cc1338" fill-opacity="0.45"/></g>
<g><circle cx="444.9" cy="140.0" r="2.7" fill="#cc1338" fill-opacity="0.3" stroke="#cc1338" stroke-width="0.8" stroke-opacity="0.85"/><circle cx="444.9" cy="140.0" r="1.1" fill="#cc1338" fill-opacity="0.45"/></g>
<g><circle cx="444.9" cy="140.6" r="2.7" fill="#cc1338" fill-opacity="0.3" stroke="#cc1338" stroke-width="0.8" stroke-opacity="0.85"/><circle cx="444.9" cy="140.6" r="1.1" fill="#cc1338" fill-opacity="0.45"/></g>
<g><circle cx="444.9" cy="141.2" r="2.7" fill="#cc1338" fill-opacity="0.3" stroke="#cc1338" stroke-width="0.8" stroke-opacity="0.85"/><circle cx="444.9" cy="141.2" r="1.1" fill="#cc1338" fill-opacity="0.45"/></g>
<g><circle cx="444.9" cy="141.8" r="2.7" fill="#cc1338" fill-opacity="0.3" stroke="#cc1338" stroke-width="0.8" stroke-opacity="0.85"/><circle cx="444.9" cy="141.8" r="1.1" fill="#cc1338" fill-opacity="0.45"/></g>
<g><circle cx="444.9" cy="142.4" r="2.7" fill="#cc1338" fill-opacity="0.3" stroke="#cc1338" stroke-width="0.8" stroke-opacity="0.85"/><circle cx="444.9" cy="142.4" r="1.1" fill="#cc1338" fill-opacity="0.45"/></g>
<g><circle cx="444.9" cy="143.0" r="2.7" fill="#cc1338" fill-opacity="0.3" stroke="#cc1338" stroke-width="0.8" stroke-opacity="0.85"/><circle cx="444.9" cy="143.0" r="1.1" fill="#cc1338" fill-opacity="0.45"/></g>
<g><circle cx="444.9" cy="143.6" r="2.7" fill="#cc1338" fill-opacity="0.3" stroke="#cc1338" stroke-width="0.8" stroke-opacity="0.85"/><circle cx="444.9" cy="143.6" r="1.1" fill="#cc1338" fill-opacity="0.45"/></g>
<g><circle cx="444.9" cy="144.2" r="2.7" fill="#cc1338" fill-opacity="0.3" stroke="#cc1338" stroke-width="0.8" stroke-opacity="0.85"/><circle cx="444.9" cy="144.2" r="1.1" fill="#cc1338" fill-opacity="0.45"/></g>
<g><circle cx="444.9" cy="144.8" r="2.7" fill="#cc1338" fill-opacity="0.3" stroke="#cc1338" stroke-width="0.8" stroke-opacity="0.85"/><circle cx="444.9" cy="144.8" r="1.1" fill="#cc1338" fill-opacity="0.45"/></g>
<g><circle cx="444.9" cy="145.4" r="2.7" fill="#cc1338" fill-opacity="0.3" stroke="#cc1338" stroke-width="0.8" stroke-opacity="0.85"/><circle cx="444.9" cy="145.4" r="1.1" fill="#cc1338" fill-opacity="0.45"/></g>
<g><circle cx="444.9" cy="146.0" r="2.7" fill="#cc1338" fill-opacity="0.3" stroke="#cc1338" stroke-width="0.8" stroke-opacity="0.85"/><circle cx="444.9" cy="146.0" r="1.1" fill="#cc1338" fill-opacity="0.45"/></g>
<g><circle cx="444.9" cy="146.6" r="2.7" fill="#cc1338" fill-opacity="0.3" stroke="#cc1338" stroke-width="0.8" stroke-opacity="0.85"/><circle cx="444.9" cy="146.6" r="1.1" fill="#cc1338" fill-opacity="0.45"/></g>
<g><circle cx="444.9" cy="147.2" r="2.7" fill="#cc1338" fill-opacity="0.3" stroke="#cc1338" stroke-width="0.8" stroke-opacity="0.85"/><circle cx="444.9" cy="147.2" r="1.1" fill="#cc1338" fill-opacity="0.45"/></g>
<g><circle cx="488.9" cy="141.0" r="2.7" fill="#175a94" fill-opacity="0.3" stroke="#175a94" stroke-width="0.8" stroke-opacity="0.85"/><circle cx="488.9" cy="141.0" r="1.1" fill="#175a94" fill-opacity="0.45"/></g>
<g><circle cx="488.9" cy="141.6" r="2.7" fill="#175a94" fill-opacity="0.3" stroke="#175a94" stroke-width="0.8" stroke-opacity="0.85"/><circle cx="488.9" cy="141.6" r="1.1" fill="#175a94" fill-opacity="0.45"/></g>
<g><circle cx="488.9" cy="142.2" r="2.7" fill="#175a94" fill-opacity="0.3" stroke="#175a94" stroke-width="0.8" stroke-opacity="0.85"/><circle cx="488.9" cy="142.2" r="1.1" fill="#175a94" fill-opacity="0.45"/></g>
<g><circle cx="488.9" cy="142.8" r="2.7" fill="#175a94" fill-opacity="0.3" stroke="#175a94" stroke-width="0.8" stroke-opacity="0.85"/><circle cx="488.9" cy="142.8" r="1.1" fill="#175a94" fill-opacity="0.45"/></g>
<g><circle cx="488.9" cy="143.4" r="2.7" fill="#175a94" fill-opacity="0.3" stroke="#175a94" stroke-width="0.8" stroke-opacity="0.85"/><circle cx="488.9" cy="143.4" r="1.1" fill="#175a94" fill-opacity="0.45"/></g>
<g><circle cx="488.9" cy="144.0" r="2.7" fill="#175a94" fill-opacity="0.3" stroke="#175a94" stroke-width="0.8" stroke-opacity="0.85"/><circle cx="488.9" cy="144.0" r="1.1" fill="#175a94" fill-opacity="0.45"/></g>
<g><circle cx="488.9" cy="144.6" r="2.7" fill="#175a94" fill-opacity="0.3" stroke="#175a94" stroke-width="0.8" stroke-opacity="0.85"/><circle cx="488.9" cy="144.6" r="1.1" fill="#175a94" fill-opacity="0.45"/></g>
<g><circle cx="488.9" cy="145.2" r="2.7" fill="#175a94" fill-opacity="0.3" stroke="#175a94" stroke-width="0.8" stroke-opacity="0.85"/><circle cx="488.9" cy="145.2" r="1.1" fill="#175a94" fill-opacity="0.45"/></g>
<g><circle cx="488.9" cy="145.8" r="2.7" fill="#175a94" fill-opacity="0.3" stroke="#175a94" stroke-width="0.8" stroke-opacity="0.85"/><circle cx="488.9" cy="145.8" r="1.1" fill="#175a94" fill-opacity="0.45"/></g>
<g><circle cx="488.9" cy="146.4" r="2.7" fill="#175a94" fill-opacity="0.3" stroke="#175a94" stroke-width="0.8" stroke-opacity="0.85"/><circle cx="488.9" cy="146.4" r="1.1" fill="#175a94" fill-opacity="0.45"/></g>
<g><circle cx="488.9" cy="147.0" r="2.7" fill="#175a94" fill-opacity="0.3" stroke="#175a94" stroke-width="0.8" stroke-opacity="0.85"/><circle cx="488.9" cy="147.0" r="1.1" fill="#175a94" fill-opacity="0.45"/></g>
<g><circle cx="416.8" cy="164.6" r="2.8" fill="#cc1338" fill-opacity="0.3" stroke="#cc1338" stroke-width="0.8" stroke-opacity="0.85"/><circle cx="416.8" cy="164.6" r="1.1" fill="#cc1338" fill-opacity="0.45"/></g>
<text x="422" y="167.6" font-size="7.2" text-anchor="start" fill="#222" font-weight="normal" stroke="#222" stroke-width="0.08" textLength="41.6" lengthAdjust="spacingAndGlyphs">BM postInd3</text>
<g><circle cx="473.3" cy="164.6" r="2.8" fill="#175a94" fill-opacity="0.3" stroke="#175a94" stroke-width="0.8" stroke-opacity="0.85"/><circle cx="473.3" cy="164.6" r="1.1" fill="#175a94" fill-opacity="0.45"/></g>
<text x="478.5" y="167.6" font-size="7.2" text-anchor="start" fill="#222" font-weight="normal" stroke="#222" stroke-width="0.08" textLength="40.8" lengthAdjust="spacingAndGlyphs">PB postInd3</text>
<text x="2" y="194" font-size="10.2" text-anchor="start" fill="#111" font-weight="bold" stroke="#111" stroke-width="0.08" >D</text>
<line x1="51" y1="200.2" x2="51" y2="337.5" stroke="#222" stroke-width="1.1"/>
<line x1="48.4" y1="337.5" x2="51" y2="337.5" stroke="#222" stroke-width="0.9"/>
<text x="44.3" y="340.2" font-size="7.9" text-anchor="end" fill="#222" font-weight="normal" stroke="#222" stroke-width="0.08" >0%</text>
<line x1="48.4" y1="324.21" x2="51" y2="324.21" stroke="#222" stroke-width="0.9"/>
<text x="44.3" y="326.90999999999997" font-size="7.9" text-anchor="end" fill="#222" font-weight="normal" stroke="#222" stroke-width="0.08" >10%</text>
<line x1="48.4" y1="310.92" x2="51" y2="310.92" stroke="#222" stroke-width="0.9"/>
<text x="44.3" y="313.62" font-size="7.9" text-anchor="end" fill="#222" font-weight="normal" stroke="#222" stroke-width="0.08" >20%</text>
<line x1="48.4" y1="297.63" x2="51" y2="297.63" stroke="#222" stroke-width="0.9"/>
<text x="44.3" y="300.33" font-size="7.9" text-anchor="end" fill="#222" font-weight="normal" stroke="#222" stroke-width="0.08" >30%</text>
<line x1="48.4" y1="284.34" x2="51" y2="284.34" stroke="#222" stroke-width="0.9"/>
<text x="44.3" y="287.03999999999996" font-size="7.9" text-anchor="end" fill="#222" font-weight="normal" stroke="#222" stroke-width="0.08" >40%</text>
<line x1="48.4" y1="271.05" x2="51" y2="271.05" stroke="#222" stroke-width="0.9"/>
<text x="44.3" y="273.75" font-size="7.9" text-anchor="end" fill="#222" font-weight="normal" stroke="#222" stroke-width="0.08" >50%</text>
<line x1="48.4" y1="257.76" x2="51" y2="257.76" stroke="#222" stroke-width="0.9"/>
<text x="44.3" y="260.46" font-size="7.9" text-anchor="end" fill="#222" font-weight="normal" stroke="#222" stroke-width="0.08" >60%</text>
<line x1="48.4" y1="244.47" x2="51" y2="244.47" stroke="#222" stroke-width="0.9"/>
<text x="44.3" y="247.17" font-size="7.9" text-anchor="end" fill="#222" font-weight="normal" stroke="#222" stroke-width="0.08" >70%</text>
<line x1="48.4" y1="231.18" x2="51" y2="231.18" stroke="#222" stroke-width="0.9"/>
<text x="44.3" y="233.88" font-size="7.9" text-anchor="end" fill="#222" font-weight="normal" stroke="#222" stroke-width="0.08" >80%</text>
<line x1="48.4" y1="217.89" x2="51" y2="217.89" stroke="#222" stroke-width="0.9"/>
<text x="44.3" y="220.58999999999997" font-size="7.9" text-anchor="end" fill="#222" font-weight="normal" stroke="#222" stroke-width="0.08" >90%</text>
<line x1="48.4" y1="204.6" x2="51" y2="204.6" stroke="#222" stroke-width="0.9"/>
<text x="44.3" y="207.29999999999998" font-size="7.9" text-anchor="end" fill="#222" font-weight="normal" stroke="#222" stroke-width="0.08" >100%</text>
<rect x="87.9" y="328.0" width="50.0" height="9.5" fill="#cf1a3c"/>
<rect x="87.9" y="256.1" width="50.0" height="71.89999999999998" fill="#125389"/>
<rect x="87.9" y="209.9" width="50.0" height="46.20000000000002" fill="#3db54a"/>
<rect x="87.9" y="204.6" width="50.0" height="5.300000000000011" fill="#f7941d"/>
<rect x="212.7" y="328.0" width="49.69999999999999" height="9.5" fill="#cf1a3c"/>
<rect x="212.7" y="204.6" width="49.69999999999999" height="123.4" fill="#5a2674"/>
<line x1="50.45" y1="337.5" x2="298.5" y2="337.5" stroke="#222" stroke-width="1.3"/>
<line x1="112.9" y1="337.5" x2="112.9" y2="340.0" stroke="#222" stroke-width="0.9"/>
<line x1="237.6" y1="337.5" x2="237.6" y2="340.0" stroke="#222" stroke-width="0.9"/>
<text x="113.25" y="209.6" font-size="7.6" text-anchor="middle" fill="#2a1a00" font-weight="normal" stroke="#2a1a00" stroke-width="0.08" textLength="34.1" lengthAdjust="spacingAndGlyphs">n = 3 (4%)</text>
<text x="113.55" y="235.1" font-size="7.6" text-anchor="middle" fill="#0d2a10" font-weight="normal" stroke="#0d2a10" stroke-width="0.08" textLength="43.1" lengthAdjust="spacingAndGlyphs">n = 24 (34%)</text>
<text x="113.5" y="295.1" font-size="7.6" text-anchor="middle" fill="#fff" font-weight="normal" stroke="#fff" stroke-width="0.08" textLength="42.8" lengthAdjust="spacingAndGlyphs">n = 38 (54%)</text>
<text x="113.65" y="335.7" font-size="7.6" text-anchor="middle" fill="#fff" font-weight="normal" stroke="#fff" stroke-width="0.08" textLength="34.7" lengthAdjust="spacingAndGlyphs">n = 5 (7%)</text>
<text x="238.35" y="268.9" font-size="7.6" text-anchor="middle" fill="#fff" font-weight="normal" stroke="#fff" stroke-width="0.08" textLength="43.3" lengthAdjust="spacingAndGlyphs">n = 65 (93%)</text>
<text x="238.35" y="335.7" font-size="7.6" text-anchor="middle" fill="#fff" font-weight="normal" stroke="#fff" stroke-width="0.08" textLength="34.7" lengthAdjust="spacingAndGlyphs">n = 5 (7%)</text>
<text x="113.0" y="349.5" font-size="7.6" text-anchor="middle" fill="#222" font-weight="normal" stroke="#222" stroke-width="0.08" textLength="36.4" lengthAdjust="spacingAndGlyphs">1&#215;10E&#8722;05</text>
<text x="237.6" y="349.5" font-size="7.6" text-anchor="middle" fill="#222" font-weight="normal" stroke="#222" stroke-width="0.08" textLength="36.4" lengthAdjust="spacingAndGlyphs">1&#215;10E&#8722;06</text>
<text x="176.2" y="363.1" font-size="9.4" text-anchor="middle" fill="#222" font-weight="normal" stroke="#222" stroke-width="0.4" textLength="20.1" lengthAdjust="spacingAndGlyphs">Cut-off</text>
<rect x="306.4" y="201.7" width="5" height="5" fill="#f7941d"/>
<text x="314.0" y="206.89999999999998" font-size="7.25" text-anchor="start" fill="#1e1e1e" font-weight="normal" stroke="#1e1e1e" stroke-width="0.04" >Discordance due to non-assessable BM</text>
<text x="314.0" y="215.89999999999998" font-size="7.25" text-anchor="start" fill="#1e1e1e" font-weight="normal" stroke="#1e1e1e" stroke-width="0.04" >MRD (MRD cut-off &lt; LOD)</text>
<rect x="306.4" y="222.0" width="5" height="5" fill="#5a2674"/>
<text x="314.0" y="227.2" font-size="7.25" text-anchor="start" fill="#1e1e1e" font-weight="normal" stroke="#1e1e1e" stroke-width="0.04" >BM MRD negative/PB MRD positive</text>
<rect x="306.4" y="235.1" width="5" height="5" fill="#3db54a"/>
<text x="314.0" y="240.29999999999998" font-size="7.25" text-anchor="start" fill="#1e1e1e" font-weight="normal" stroke="#1e1e1e" stroke-width="0.04" >BM MRD positive/PB MRD negative</text>
<rect x="306.4" y="248.5" width="5" height="5" fill="#125389"/>
<text x="314.0" y="253.7" font-size="7.25" text-anchor="start" fill="#1e1e1e" font-weight="normal" stroke="#1e1e1e" stroke-width="0.04" >BM and PB MRD negative</text>
<rect x="306.4" y="262.1" width="5" height="5" fill="#cf1a3c"/>
<text x="314.0" y="267.3" font-size="7.25" text-anchor="start" fill="#1e1e1e" font-weight="normal" stroke="#1e1e1e" stroke-width="0.04" >BM and PB MRD positive</text>
<text x="2" y="386.0" font-size="10.2" text-anchor="start" fill="#111" font-weight="bold" stroke="#111" stroke-width="0.08" >E</text>
<rect x="13.3" y="392.7" width="506.7" height="59.2" fill="#115487"/>
<rect x="519" y="392.7" width="1" height="59.2" fill="#8fc3ea"/>
<rect x="210.3" y="392.7" width="1.5" height="59.2" fill="#8fc3ea"/>
<rect x="415.6" y="392.7" width="1.3" height="59.2" fill="#8fc3ea"/>
<rect x="211" y="434.8" width="205" height="1.3" fill="#8fc3ea"/>
<rect x="313" y="435" width="1.3" height="17" fill="#8fc3ea"/>
<rect x="13.3" y="451.9" width="506.7" height="163.1" fill="#e8f0f7"/>
<rect x="13.3" y="453.8" width="98.4" height="106.2" fill="#89a9c3"/>
<rect x="113.3" y="453.8" width="97" height="52" fill="#dbe4ec"/>
<rect x="212" y="453.8" width="101" height="52" fill="#dbe4ec"/>
<rect x="314.8" y="453.8" width="100.8" height="52" fill="#dbe4ec"/>
<rect x="417.2" y="453.8" width="102.8" height="52" fill="#dbe4ec"/>
<rect x="113.3" y="507.5" width="97" height="52.5" fill="#b8cbdb"/>
<rect x="212" y="507.5" width="101" height="52.5" fill="#b8cbdb"/>
<rect x="314.8" y="507.5" width="100.8" height="52.5" fill="#b8cbdb"/>
<rect x="417.2" y="507.5" width="102.8" height="52.5" fill="#b8cbdb"/>
<rect x="13.3" y="561.8" width="197" height="53.2" fill="#dbe4ec"/>
<rect x="212" y="561.8" width="101" height="53.2" fill="#dbe4ec"/>
<rect x="314.8" y="561.8" width="100.8" height="53.2" fill="#dbe4ec"/>
<rect x="417.2" y="561.8" width="102.8" height="53.2" fill="#dbe4ec"/>
<text x="112.1" y="425.6" font-size="9.6" text-anchor="middle" fill="#fff" font-weight="normal" stroke="#fff" stroke-width="0.14" textLength="30" lengthAdjust="spacingAndGlyphs">Sample</text>
<text x="314.5" y="405.8" font-size="9.6" text-anchor="middle" fill="#fff" font-weight="normal" stroke="#fff" stroke-width="0.14" textLength="66.7" lengthAdjust="spacingAndGlyphs">BM MRD results</text>
<text x="314.4" y="416.2" font-size="9.6" text-anchor="middle" fill="#fff" font-weight="normal" stroke="#fff" stroke-width="0.14" textLength="80.2" lengthAdjust="spacingAndGlyphs">MRD cutoff 1&#215;10<tspan dy="-3.7" font-size="7">&#8722;5</tspan></text>
<text x="314.5" y="428.5" font-size="9.6" text-anchor="middle" fill="#fff" font-weight="normal" stroke="#fff" stroke-width="0.14" textLength="52.5" lengthAdjust="spacingAndGlyphs">(&#8220;true&#8221; result)</text>
<text x="263.5" y="446.6" font-size="9.6" text-anchor="middle" fill="#fff" font-weight="normal" stroke="#fff" stroke-width="0.14" textLength="31" lengthAdjust="spacingAndGlyphs">Positive</text>
<text x="364.7" y="446.6" font-size="9.6" text-anchor="middle" fill="#fff" font-weight="normal" stroke="#fff" stroke-width="0.14" textLength="34.8" lengthAdjust="spacingAndGlyphs">Negative</text>
<text x="466.1" y="425.9" font-size="9.6" text-anchor="middle" fill="#fff" font-weight="normal" stroke="#fff" stroke-width="0.14" textLength="69.8" lengthAdjust="spacingAndGlyphs">Test performance</text>
<text x="162.5" y="482.4" font-size="9.6" text-anchor="middle" fill="#1a1a1a" font-weight="normal" stroke="#1a1a1a" stroke-width="0.14" textLength="31.4" lengthAdjust="spacingAndGlyphs">Positive</text>
<text x="161.3" y="536.0" font-size="9.6" text-anchor="middle" fill="#1a1a1a" font-weight="normal" stroke="#1a1a1a" stroke-width="0.14" textLength="35.6" lengthAdjust="spacingAndGlyphs">Negative</text>
<text x="62.75" y="498.5" font-size="9.6" text-anchor="middle" fill="#1a1a1a" font-weight="normal" stroke="#1a1a1a" stroke-width="0.14" textLength="64.5" lengthAdjust="spacingAndGlyphs">PB MRD results</text>
<text x="63.0" y="509.2" font-size="9.6" text-anchor="middle" fill="#1a1a1a" font-weight="normal" stroke="#1a1a1a" stroke-width="0.14" textLength="79.6" lengthAdjust="spacingAndGlyphs">MRD cutoff 1&#215;10<tspan dy="-3.7" font-size="7">&#8722;5</tspan></text>
<text x="62.55" y="520.0" font-size="9.6" text-anchor="middle" fill="#1a1a1a" font-weight="normal" stroke="#1a1a1a" stroke-width="0.14" textLength="49.3" lengthAdjust="spacingAndGlyphs">(test results)</text>
<text x="262.7" y="477.5" font-size="9.6" text-anchor="middle" fill="#1a1a1a" font-weight="normal" stroke="#1a1a1a" stroke-width="0.14" textLength="10.8" lengthAdjust="spacingAndGlyphs">TP</text>
<text x="262.4" y="488.6" font-size="9.6" text-anchor="middle" fill="#1a1a1a" font-weight="normal" stroke="#1a1a1a" stroke-width="0.14" textLength="21.5" lengthAdjust="spacingAndGlyphs">n = 5</text>
<text x="364.7" y="477.5" font-size="9.6" text-anchor="middle" fill="#1a1a1a" font-weight="normal" stroke="#1a1a1a" stroke-width="0.14" textLength="10.8" lengthAdjust="spacingAndGlyphs">FP</text>
<text x="364.4" y="488.6" font-size="9.6" text-anchor="middle" fill="#1a1a1a" font-weight="normal" stroke="#1a1a1a" stroke-width="0.14" textLength="21.5" lengthAdjust="spacingAndGlyphs">n = 0</text>
<text x="262.7" y="531.2" font-size="9.6" text-anchor="middle" fill="#1a1a1a" font-weight="normal" stroke="#1a1a1a" stroke-width="0.14" textLength="11.6" lengthAdjust="spacingAndGlyphs">FN</text>
<text x="262.4" y="542.3" font-size="9.6" text-anchor="middle" fill="#1a1a1a" font-weight="normal" stroke="#1a1a1a" stroke-width="0.14" textLength="27.5" lengthAdjust="spacingAndGlyphs">n = 24</text>
<text x="364.7" y="531.2" font-size="9.6" text-anchor="middle" fill="#1a1a1a" font-weight="normal" stroke="#1a1a1a" stroke-width="0.14" textLength="11.6" lengthAdjust="spacingAndGlyphs">TN</text>
<text x="364.4" y="542.3" font-size="9.6" text-anchor="middle" fill="#1a1a1a" font-weight="normal" stroke="#1a1a1a" stroke-width="0.14" textLength="27.5" lengthAdjust="spacingAndGlyphs">n = 38</text>
<text x="421.6" y="465.6" font-size="9.6" text-anchor="start" fill="#1a1a1a" font-weight="normal" stroke="#1a1a1a" stroke-width="0.14" textLength="17.1" lengthAdjust="spacingAndGlyphs">PPV</text>
<text x="421.6" y="477.0" font-size="9.6" text-anchor="start" fill="#1a1a1a" font-weight="normal" stroke="#1a1a1a" stroke-width="0.14" textLength="58.1" lengthAdjust="spacingAndGlyphs">= TP/(TP+FP)</text>
<text x="421.6" y="488.4" font-size="9.6" text-anchor="start" fill="#1a1a1a" font-weight="normal" stroke="#1a1a1a" stroke-width="0.14" textLength="76.9" lengthAdjust="spacingAndGlyphs">= 5/(5+0) &#215; 100%</text>
<text x="421.6" y="499.8" font-size="9.6" text-anchor="start" fill="#1a1a1a" font-weight="normal" stroke="#1a1a1a" stroke-width="0.14" textLength="33.6" lengthAdjust="spacingAndGlyphs">= 100%</text>
<text x="421.2" y="519.9" font-size="9.6" text-anchor="start" fill="#1a1a1a" font-weight="normal" stroke="#1a1a1a" stroke-width="0.14" textLength="18.2" lengthAdjust="spacingAndGlyphs">NPV</text>
<text x="421.2" y="531.0" font-size="9.6" text-anchor="start" fill="#1a1a1a" font-weight="normal" stroke="#1a1a1a" stroke-width="0.14" textLength="59" lengthAdjust="spacingAndGlyphs">= TN/(TN+FN)</text>
<text x="421.2" y="542.1" font-size="9.6" text-anchor="start" fill="#1a1a1a" font-weight="normal" stroke="#1a1a1a" stroke-width="0.14" textLength="93.3" lengthAdjust="spacingAndGlyphs">= 38/(38+24) &#215; 100%</text>
<text x="421.2" y="553.2" font-size="9.6" text-anchor="start" fill="#1a1a1a" font-weight="normal" stroke="#1a1a1a" stroke-width="0.14" textLength="27.9" lengthAdjust="spacingAndGlyphs">= 61%</text>
<text x="221.2" y="573.9" font-size="9.6" text-anchor="start" fill="#1a1a1a" font-weight="normal" stroke="#1a1a1a" stroke-width="0.14" textLength="40.4" lengthAdjust="spacingAndGlyphs">Sensitivity</text>
<text x="221.2" y="585.0" font-size="9.6" text-anchor="start" fill="#1a1a1a" font-weight="normal" stroke="#1a1a1a" stroke-width="0.14" textLength="58.1" lengthAdjust="spacingAndGlyphs">= TP/(TP+FN)</text>
<text x="221.2" y="596.1" font-size="9.6" text-anchor="start" fill="#1a1a1a" font-weight="normal" stroke="#1a1a1a" stroke-width="0.14" textLength="83.3" lengthAdjust="spacingAndGlyphs">= 5/(5+24) &#215; 100%</text>
<text x="221.2" y="607.2" font-size="9.6" text-anchor="start" fill="#1a1a1a" font-weight="normal" stroke="#1a1a1a" stroke-width="0.14" textLength="28.9" lengthAdjust="spacingAndGlyphs">= 17%</text>
<text x="321.2" y="573.9" font-size="9.6" text-anchor="start" fill="#1a1a1a" font-weight="normal" stroke="#1a1a1a" stroke-width="0.14" textLength="41.3" lengthAdjust="spacingAndGlyphs">Specificity</text>
<text x="321.2" y="585.0" font-size="9.6" text-anchor="start" fill="#1a1a1a" font-weight="normal" stroke="#1a1a1a" stroke-width="0.14" textLength="58.1" lengthAdjust="spacingAndGlyphs">= TN/(TN+FP)</text>
<text x="321.2" y="596.1" font-size="9.6" text-anchor="start" fill="#1a1a1a" font-weight="normal" stroke="#1a1a1a" stroke-width="0.14" textLength="88.8" lengthAdjust="spacingAndGlyphs">= 38/(38+0) &#215; 100%</text>
<text x="321.2" y="607.2" font-size="9.6" text-anchor="start" fill="#1a1a1a" font-weight="normal" stroke="#1a1a1a" stroke-width="0.14" textLength="34.2" lengthAdjust="spacingAndGlyphs">= 100%</text>
<text x="112.4" y="590.4" font-size="9.6" text-anchor="middle" fill="#1a1a1a" font-weight="normal" stroke="#1a1a1a" stroke-width="0.14" textLength="69.2" lengthAdjust="spacingAndGlyphs">Test performance</text>
<text x="469.1" y="591.2" font-size="9.6" text-anchor="middle" fill="#1a1a1a" font-weight="normal" stroke="#1a1a1a" stroke-width="0.14" textLength="30.6" lengthAdjust="spacingAndGlyphs">n = 67*</text>
</svg>
</body></html>
